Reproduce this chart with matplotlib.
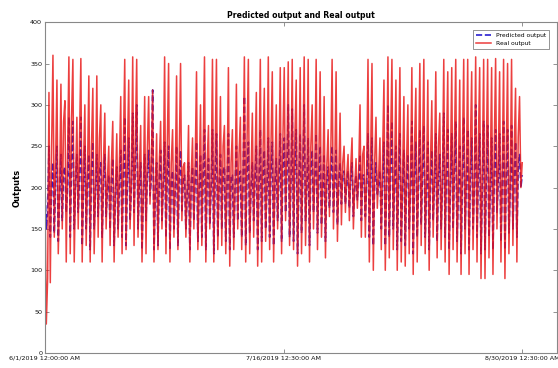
import matplotlib
matplotlib.use('Agg')
import matplotlib.pyplot as plt
import pandas as pd

# real output (about every 6 h)
real_1 = [200, 35, 90, 315, 85, 250, 360, 140, 230, 330, 120, 200, 325, 150, 280, 305, 110, 240, 358, 120,
          285, 355, 110, 210, 285, 150, 260, 356, 110, 230, 300, 130, 220, 335, 110, 250, 320, 120, 200, 335,
          140, 260, 300, 110, 230, 290, 150, 210, 250, 130, 230, 280, 110, 200, 265, 140, 230, 310, 120, 250]
real_2 = [355, 125, 240, 330, 150, 210, 358, 130, 260, 355, 140, 220, 275, 110, 200, 310, 120, 245, 310, 180,
          230, 318, 110, 200, 265, 125, 230, 280, 150, 210, 358, 120, 250, 350, 110, 230, 270, 140, 210, 335,
          125, 240, 350, 160, 225, 230, 140, 200, 275, 110, 215, 260, 150, 230, 340, 125, 205, 300, 130, 240]
real_3 = [358, 110, 230, 275, 150, 210, 355, 110, 240, 355, 125, 210, 310, 130, 250, 275, 120, 215, 345, 105,
          230, 270, 125, 200, 325, 150, 240, 285, 125, 220, 358, 110, 255, 355, 120, 210, 290, 140, 230, 315,
          105, 220, 355, 110, 240, 320, 135, 210, 358, 125, 250, 340, 110, 215, 300, 150, 230, 345, 120, 260]
real_4 = [345, 160, 240, 352, 130, 215, 355, 125, 260, 330, 105, 220, 345, 120, 240, 358, 130, 210, 355, 110,
          250, 300, 150, 220, 355, 125, 235, 340, 140, 210, 310, 115, 225, 270, 165, 240, 355, 150, 220, 340,
          135, 215, 290, 155, 230, 250, 170, 215, 240, 160, 225, 260, 150, 200, 235, 175, 220, 300, 140, 240]
real_5 = [250, 140, 220, 355, 110, 240, 350, 100, 230, 285, 175, 215, 260, 125, 240, 330, 100, 210, 358, 115,
          255, 355, 125, 220, 330, 100, 240, 345, 110, 215, 310, 105, 230, 300, 120, 210, 345, 95, 250, 320,
          110, 225, 350, 130, 240, 355, 120, 210, 330, 100, 230, 305, 140, 220, 340, 115, 250, 290, 125, 215]
real_6 = [355, 110, 240, 340, 95, 220, 345, 125, 250, 355, 110, 215, 330, 95, 240, 355, 120, 220, 355, 95,
          245, 340, 125, 210, 358, 110, 250, 345, 90, 225, 355, 90, 240, 355, 115, 215, 345, 95, 250, 356,
          150, 230, 340, 110, 220, 355, 90, 240, 350, 120, 210, 355, 130, 245, 320, 110, 260, 310, 200, 230]

pred_1 = [200, 150, 170, 250, 140, 200, 230, 145, 210, 250, 135, 190, 240, 160, 220, 225, 170, 200, 285, 140,
          230, 280, 150, 205, 240, 170, 215, 285, 130, 200, 250, 150, 210, 240, 125, 220, 255, 150, 195, 240,
          165, 220, 230, 140, 210, 240, 165, 200, 215, 150, 210, 235, 130, 195, 225, 150, 205, 245, 140, 215]
pred_2 = [285, 130, 210, 260, 160, 200, 290, 170, 230, 300, 150, 205, 230, 125, 195, 240, 160, 215, 245, 190,
          210, 318, 125, 195, 230, 130, 210, 245, 160, 205, 255, 140, 220, 250, 125, 210, 220, 150, 200, 250,
          130, 215, 245, 170, 210, 215, 150, 195, 230, 125, 205, 225, 160, 210, 255, 135, 200, 240, 140, 215]
pred_3 = [270, 125, 210, 235, 155, 200, 270, 120, 215, 265, 140, 205, 240, 150, 220, 225, 135, 205, 265, 125,
          215, 215, 140, 200, 250, 160, 215, 220, 140, 205, 310, 130, 220, 255, 145, 200, 230, 160, 210, 250,
          125, 205, 270, 135, 215, 245, 150, 200, 260, 140, 220, 255, 130, 205, 235, 160, 210, 265, 135, 225]
pred_4 = [260, 170, 215, 300, 140, 205, 295, 135, 225, 270, 120, 205, 265, 145, 215, 300, 160, 200, 260, 130,
          220, 245, 170, 210, 265, 145, 210, 250, 155, 200, 240, 135, 210, 225, 175, 215, 250, 170, 205, 245,
          155, 205, 230, 180, 215, 220, 180, 205, 220, 175, 210, 230, 165, 200, 215, 185, 210, 240, 160, 215]
pred_5 = [215, 165, 205, 265, 140, 210, 260, 130, 205, 230, 190, 205, 220, 150, 210, 255, 130, 200, 300, 140,
          220, 280, 150, 205, 250, 125, 210, 265, 135, 200, 245, 130, 210, 240, 150, 200, 280, 120, 215, 255,
          140, 205, 270, 155, 215, 275, 140, 200, 255, 125, 210, 245, 160, 205, 265, 135, 215, 240, 150, 205]
pred_6 = [290, 140, 215, 270, 125, 205, 265, 150, 220, 280, 135, 200, 250, 120, 210, 285, 150, 205, 270, 125,
          215, 260, 150, 200, 300, 140, 220, 265, 120, 205, 280, 125, 210, 275, 140, 200, 260, 125, 215, 270,
          170, 210, 265, 135, 205, 280, 125, 215, 270, 145, 200, 275, 150, 215, 255, 140, 225, 240, 200, 215]

real = real_1 + real_2 + real_3 + real_4 + real_5 + real_6
predicted = pred_1 + pred_2 + pred_3 + pred_4 + pred_5 + pred_6

t_start = '2019-06-01 00:00'
t_end = '2019-08-30 00:30'
tick_times = ['2019-06-01 00:00', '2019-07-16 00:30', '2019-08-30 00:30']
tick_labels = ['6/1/2019 12:00:00 AM', '7/16/2019 12:30:00 AM', '8/30/2019 12:30:00 AM']

t_real = pd.date_range(t_start, t_end, periods=len(real))
t_pred = pd.date_range(t_start, t_end, periods=len(predicted))

fig = plt.figure(figsize=(5.58, 3.68), dpi=100)
ax = fig.add_axes([0.0806, 0.0408, 0.918, 0.899])

ax.plot(t_pred, predicted, '--', color='#2a1fd0', linewidth=1.2, label='Predicted output')
ax.plot(t_real, real, '-', color='#e81414', linewidth=1.1, alpha=0.82, label='Real output')

ax.set_ylim(0, 400)
ax.set_yticks(range(0, 401, 50))
ax.set_xlim(pd.Timestamp(t_start), pd.Timestamp('2019-09-05 15:00'))
ax.set_xticks([pd.Timestamp(t) for t in tick_times])
ax.set_xticklabels(tick_labels)

ax.tick_params(axis='both', labelsize=4.6, length=3, width=0.5, direction='in',
               top=True, right=True, color='#666666', labelcolor='#111111', pad=2)
for s in ax.spines.values():
    s.set_color('#888888')
    s.set_linewidth(0.8)

ax.set_ylabel('Outputs', fontsize=6, fontweight='bold', labelpad=6)
ax.set_title('Predicted output and Real output', fontsize=5.6, fontweight='bold', pad=3)

leg = ax.legend(loc='upper right', fontsize=4.3, frameon=True, fancybox=False,
                edgecolor='#444444', borderpad=0.5, handlelength=2.6,
                labelspacing=0.5, bbox_to_anchor=(0.99, 0.985))
leg.get_frame().set_linewidth(0.5)

fig.savefig('out.png', dpi=100)
